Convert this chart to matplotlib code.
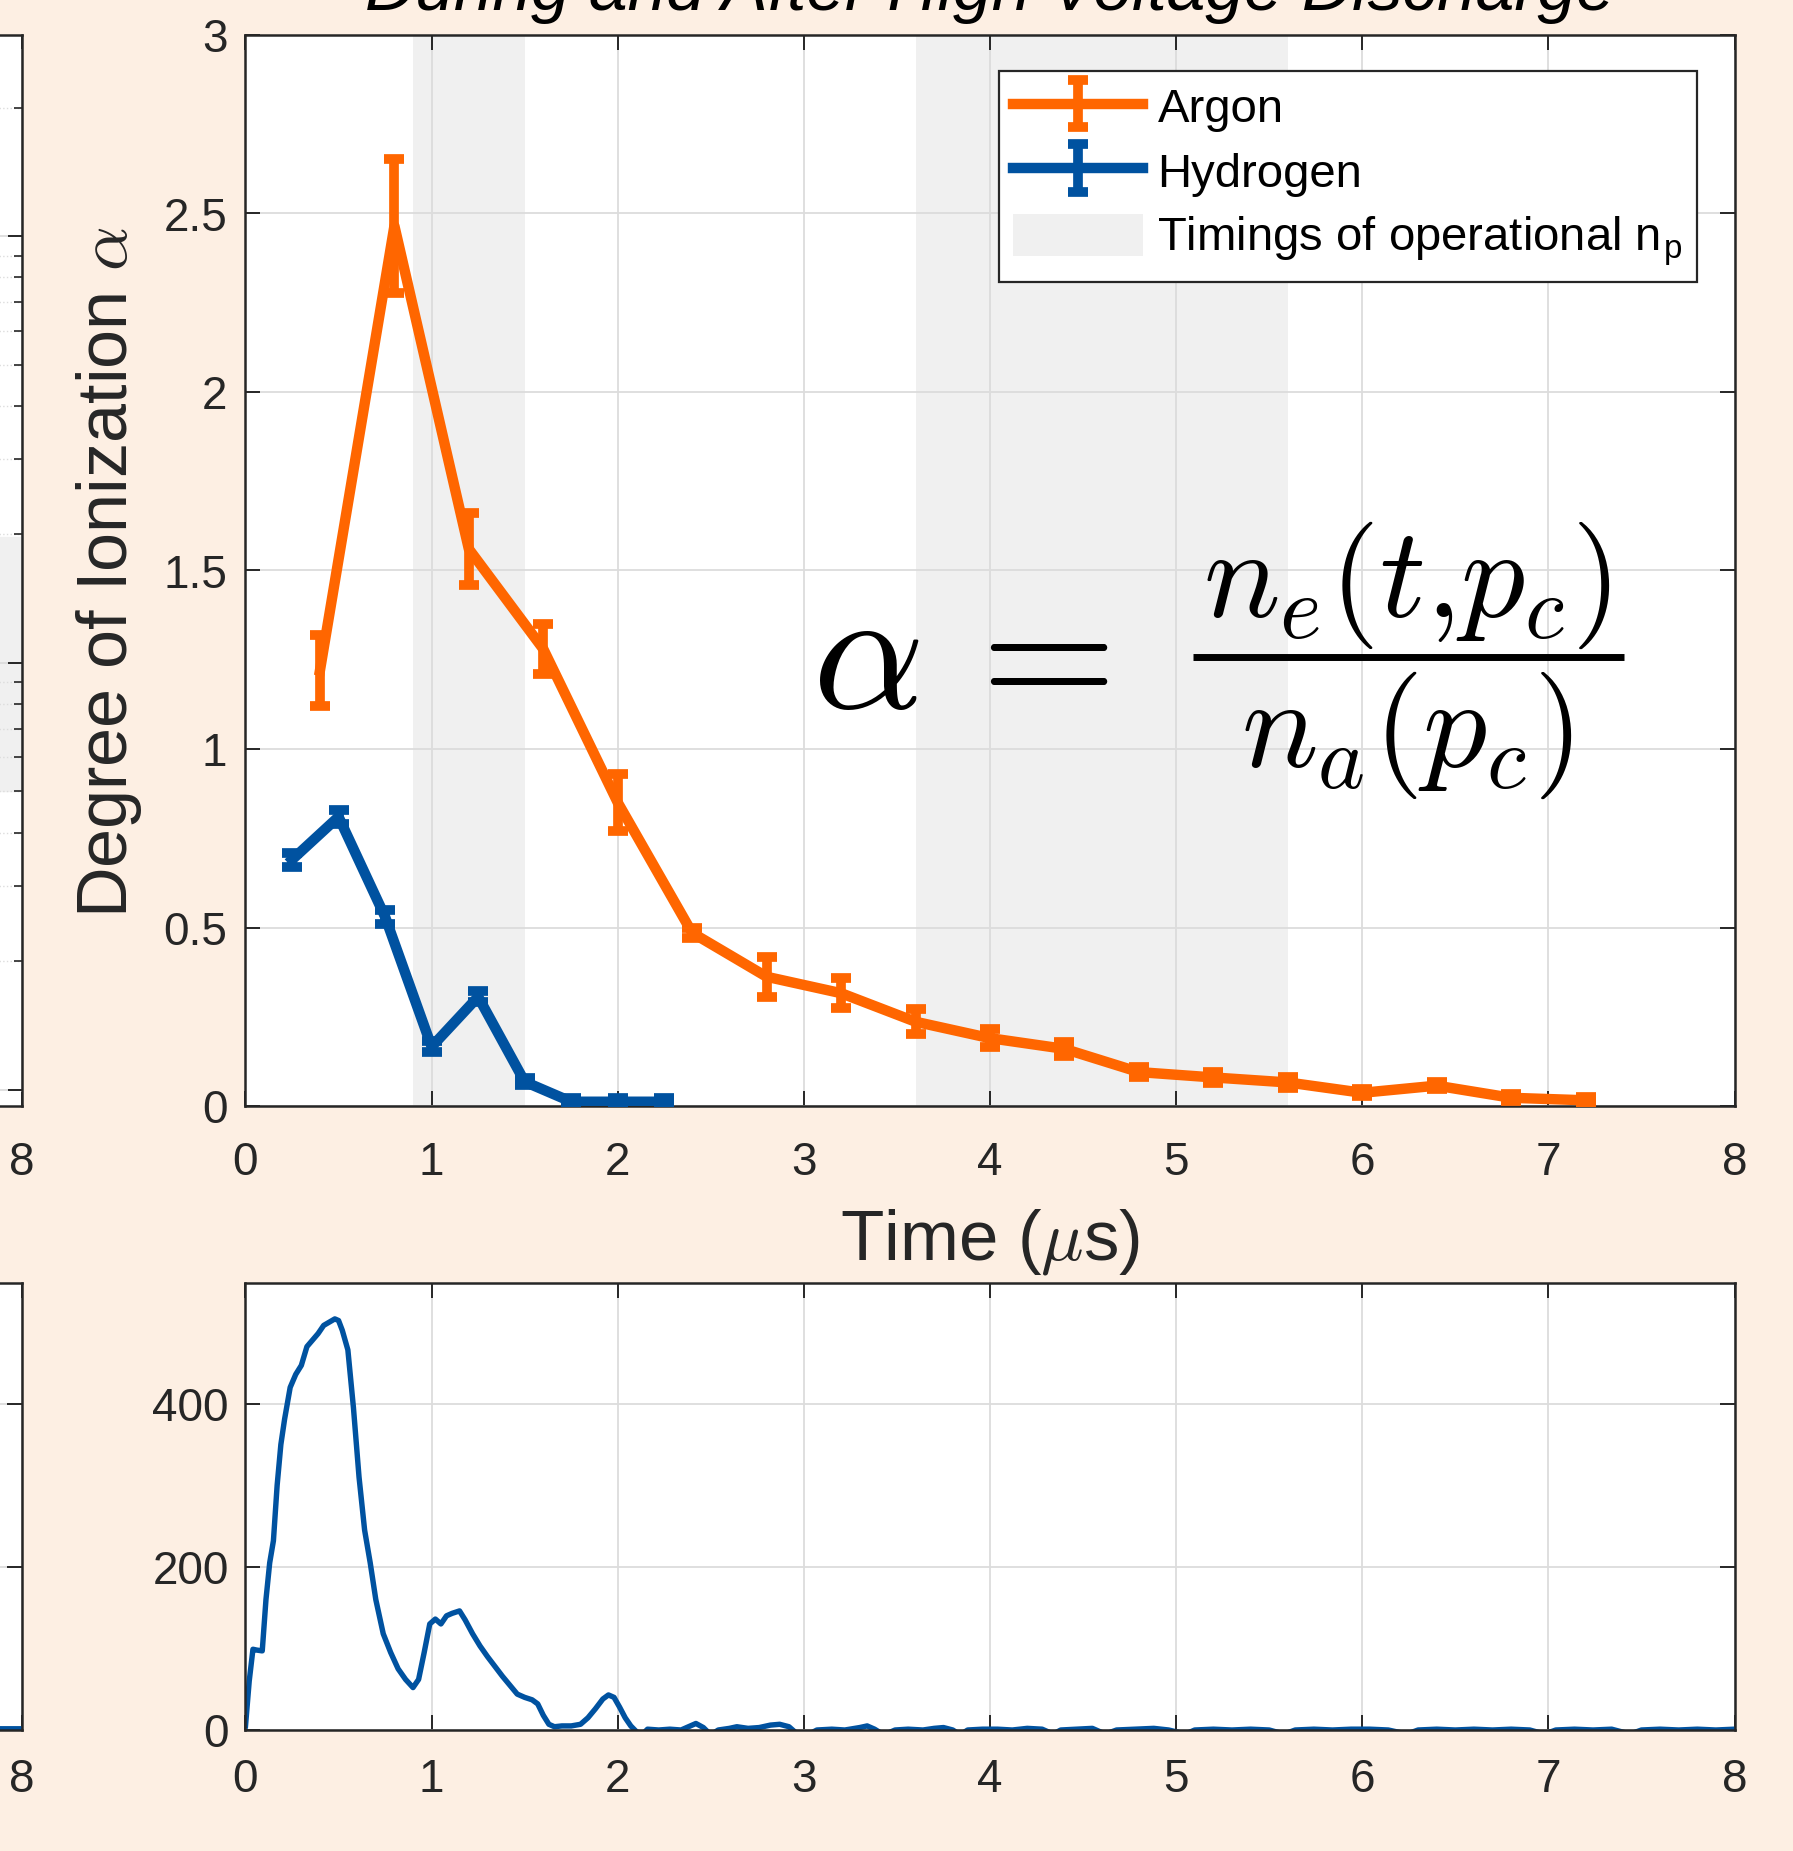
import matplotlib
matplotlib.use("Agg")
import matplotlib.pyplot as plt
from matplotlib.patches import Patch

plt.rcParams['font.family'] = ['Liberation Sans', 'DejaVu Sans']
plt.rcParams['mathtext.fontset'] = 'cm'

BG = '#FDEFE3'
DARK = '#262626'
GRIDC = '#DCDCDC'
ORANGE = '#FF6600'
BLUE = '#0052A0'
SHADE = '#F0F0F0'

# degree of ionization, argon
ar_t = [0.4, 0.8, 1.2, 1.6, 2.0, 2.4, 2.8, 3.2, 3.6, 4.0, 4.4, 4.8, 5.2, 5.6, 6.0, 6.4, 6.8, 7.2]
ar_a = [1.22, 2.465, 1.56, 1.28, 0.85, 0.485, 0.362, 0.316, 0.236, 0.19, 0.16, 0.095, 0.08, 0.066,
        0.037, 0.057, 0.023, 0.016]
ar_err = [0.10, 0.188, 0.10, 0.07, 0.08, 0.015, 0.056, 0.042, 0.035, 0.025, 0.02, 0.015, 0.015, 0.015,
          0.01, 0.01, 0.01, 0.01]

# degree of ionization, hydrogen
h_t = [0.25, 0.5, 0.75, 1.0, 1.25, 1.5, 1.75, 2.0, 2.25]
h_a = [0.69, 0.81, 0.53, 0.166, 0.306, 0.068, 0.012, 0.012, 0.012]
h_err = [0.02, 0.02, 0.02, 0.015, 0.015, 0.01, 0.01, 0.01, 0.01]

# operational n_p windows (us)
bands = [(0.9, 1.5), (3.6, 5.6)]

# discharge trace (lower panel)
tr_t = [0.00, 0.02, 0.04, 0.06, 0.09, 0.11, 0.13, 0.15, 0.17, 0.19, 0.21, 0.24, 0.27, 0.30, 0.33,
        0.36, 0.39, 0.42, 0.45, 0.48, 0.50, 0.52, 0.55, 0.58, 0.61, 0.64, 0.67, 0.70, 0.74, 0.78,
        0.82, 0.86, 0.90, 0.93, 0.96, 0.99, 1.02, 1.05, 1.08, 1.11, 1.15, 1.18, 1.22, 1.26, 1.30,
        1.34, 1.38, 1.42, 1.46, 1.50, 1.54, 1.57, 1.60, 1.63, 1.66, 1.70, 1.75, 1.80, 1.84, 1.88,
        1.92, 1.95, 1.98, 2.01, 2.04, 2.07, 2.10, 2.13, 2.16, 2.22, 2.28, 2.34, 2.38, 2.42, 2.46,
        2.50, 2.54, 2.60, 2.64, 2.70, 2.76, 2.82, 2.87, 2.92, 2.96, 3.02, 3.07, 3.15, 3.22, 3.30,
        3.34, 3.38, 3.43, 3.49, 3.56, 3.64, 3.70, 3.75, 3.80, 3.84, 3.88, 3.96, 4.04, 4.12, 4.20,
        4.28, 4.34, 4.38, 4.46, 4.55, 4.62, 4.68, 4.78, 4.88, 4.96, 5.05, 5.10, 5.20, 5.30, 5.40,
        5.50, 5.58, 5.64, 5.74, 5.84, 5.94, 6.04, 6.14, 6.24, 6.30, 6.40, 6.50, 6.60, 6.70, 6.80,
        6.90, 6.98, 7.04, 7.14, 7.24, 7.34, 7.44, 7.50, 7.60, 7.70, 7.80, 7.90, 8.00]
tr_v = [5, 60, 99, 98, 97, 160, 205, 232, 300, 350, 381, 420, 436, 447, 470,
        478, 486, 496, 500, 504, 502, 490, 466, 395, 310, 245, 205, 160, 118, 95,
        75, 62, 52, 62, 95, 130, 136, 130, 140, 143, 146, 135, 118, 103, 90,
        78, 66, 55, 44, 40, 37, 32, 18, 7, 4, 5, 5, 7, 15, 26,
        38, 43, 40, 28, 15, 5, -2, -6, 1, 0, 1, 0, 4, 8, 3,
        -6, 0, 2, 4, 2, 3, 6, 7, 4, -4, -6, 0, 1, 0, 3,
        5, 1, -6, 0, 1, 0, 2, 3, 0, -6, 0, 1, 1, 0, 2,
        1, -5, 0, 1, 2, -5, 0, 1, 2, 0, -5, 0, 1, 0, 1,
        0, -5, 0, 1, 0, 1, 1, 0, -5, 0, 1, 0, 1, 0, 1,
        0, -5, 0, 1, 0, 1, -5, 0, 1, 0, 1, 0, 1]

x_ticks = [0, 1, 2, 3, 4, 5, 6, 7, 8]
a_ticks = [0, 0.5, 1, 1.5, 2, 2.5, 3]
a_labels = ['0', '0.5', '1', '1.5', '2', '2.5', '3']
tr_ticks = [0, 200, 400]
# only the last label of the cut-off neighbour panels is on the canvas
edge_labels = ['', '', '', '', '', '', '', '', '8']

W, H = 1793, 1851
fig = plt.figure(figsize=(W / 100, H / 100), dpi=100, facecolor=BG)


def style(ax, pad_x, pad_y):
    ax.set_facecolor('white')
    for s in ax.spines.values():
        s.set_color(DARK)
        s.set_linewidth(1.8)
    ax.tick_params(direction='in', top=True, right=True, length=11, width=1.4,
                   colors=DARK, labelsize=33)
    ax.tick_params(axis='x', pad=pad_x)
    ax.tick_params(axis='y', pad=pad_y)
    ax.set_axisbelow(True)
    ax.grid(True, color=GRIDC, linewidth=1.3)


L = 245.5 / W
AW = 1489 / W
top_b, top_h = 1 - 1106 / H, (1106 - 35) / H
bot_b, bot_h = 1 - 1730 / H, (1730 - 1283) / H

# neighbouring panels cut off at the left edge
axl = fig.add_axes([22 / W - AW, top_b, AW, top_h])
style(axl, 25, 13)
axl.set_yscale('log')
axl.set_xlim(0, 8)
axl.set_ylim(0.915, 296)
axl.set_xticks(x_ticks)
axl.set_xticklabels(edge_labels)
axl.axhspan(5.0, 19.7, color=SHADE, zorder=0.2)
axl.grid(True, which='minor', axis='y', color=GRIDC, linestyle=':', linewidth=1.0)
axl.tick_params(which='minor', direction='in', right=True, length=6, width=1.2, colors=DARK)
axl.tick_params(which='major', length=10)
axl.tick_params(axis='y', which='both', labelleft=False)

axlb = fig.add_axes([22 / W - AW, bot_b, AW, bot_h])
style(axlb, 20, 12)
axlb.set_xlim(0, 8)
axlb.set_ylim(0, 548)
axlb.set_xticks(x_ticks)
axlb.set_xticklabels(edge_labels)
axlb.set_yticks(tr_ticks)
axlb.tick_params(axis='y', labelleft=False)
axlb.plot([0, 8], [3, 3], color=BLUE, lw=3.5)

# main panel
ax = fig.add_axes([L, top_b, AW, top_h])
style(ax, 25, 13)
for b0, b1 in bands:
    ax.axvspan(b0, b1, color=SHADE, lw=0, zorder=0.2)
ax.errorbar(ar_t, ar_a, yerr=ar_err, color=ORANGE, lw=7.5, elinewidth=7,
            capsize=7, capthick=7, label='Argon', zorder=3)
ax.errorbar(h_t, h_a, yerr=h_err, color=BLUE, lw=7.5, elinewidth=7,
            capsize=7, capthick=7, label='Hydrogen', zorder=3)
ax.set_xlim(0, 8)
ax.set_ylim(0, 3)
ax.set_xticks(x_ticks)
ax.set_yticks(a_ticks)
ax.set_yticklabels(a_labels)

handles, labels = ax.get_legend_handles_labels()
handles.append(Patch(facecolor=SHADE, edgecolor='none'))
labels.append(r'Timings of operational n$_\mathregular{p}$')
leg = ax.legend(handles, labels, loc='upper right', bbox_to_anchor=(0.9748, 0.9664),
                borderaxespad=0, fontsize=34, fancybox=False, framealpha=1,
                edgecolor=DARK, handlelength=2.75, handletextpad=0.3, labelspacing=0.36,
                borderpad=0.3, handleheight=1.0)
leg.get_frame().set_linewidth(1.6)

# ionization formula, built from pieces so the fraction sizes match
ax.text(3.046, 1.115, r'$\alpha\,=$', fontsize=126, ha='left', va='baseline', zorder=4)
ax.plot([5.089, 7.405], [1.257, 1.257], color='black', lw=5, solid_capstyle='butt', zorder=4)
ax.text(6.24, 1.37, r'$n_e(t{,}p_c)$', fontsize=92, ha='center', va='baseline', zorder=4)
ax.text(6.24, 0.949, r'$n_a(p_c)$', fontsize=92, ha='center', va='baseline', zorder=4)

fig.text(990 / W, 1 - 10 / H, 'During and After High Voltage Discharge', style='italic',
         fontsize=50, ha='center', va='baseline', color='black')
fig.text(108.6 / W, 1 - 572.5 / H, r'Degree of Ionization $\alpha$', rotation=90,
         fontsize=50.5, ha='center', va='center', color=DARK)
fig.text(990 / W, 1 - 1242 / H, r'Time ($\mu$s)', fontsize=51, ha='center', va='center',
         color=DARK)

# lower panel
axb = fig.add_axes([L, bot_b, AW, bot_h])
style(axb, 20, 12)
axb.plot(tr_t, tr_v, color=BLUE, lw=3.9)
axb.set_xlim(0, 8)
axb.set_ylim(0, 548)
axb.set_xticks(x_ticks)
axb.set_yticks(tr_ticks)

fig.savefig('out.png', dpi=100, facecolor=BG)
